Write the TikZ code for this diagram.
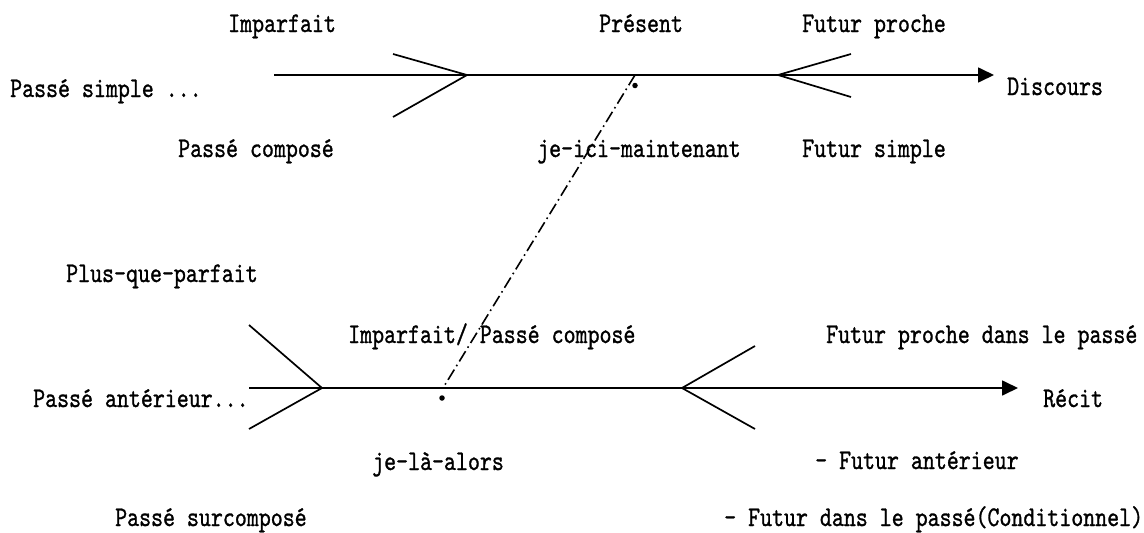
\documentclass[tikz,border=0pt]{standalone}
\usepackage{fontspec}
\newfontfamily\reffont{lmmono10-regular.otf}[FakeStretch=0.8,FakeBold=1]
\usetikzlibrary{arrows.meta}
\begin{document}
\begin{tikzpicture}[x=1pt,y=-1pt,
  lbl/.style={anchor=base west,inner sep=0pt,font=\reffont\fontsize{28.5}{32}\selectfont},
  axis/.style={line width=1.7pt},
  fork/.style={line width=1.7pt},
  tieline/.style={line width=1.6pt,dash pattern=on 12pt off 4pt on 1.6pt off 4pt},
  spot/.style={circle,fill=black,inner sep=0pt,minimum size=5.5pt}]
\useasboundingbox (0,0) rectangle (1144,533);
% --- Discours axis ---
\coordinate (dS) at (274,75);
\coordinate (dE) at (994,75);
\coordinate (dLa) at (467,75);
\coordinate (dLu) at (393,54);
\coordinate (dLd) at (393,117);
\coordinate (dRa) at (778,75);
\coordinate (dRu) at (851,54);
\coordinate (dRd) at (851,97);
\coordinate (dT) at (635,75);
\draw[axis,-{Triangle[length=16pt,width=15pt]}] (dS) -- (dE);
\draw[fork] (dLu) -- (dLa) -- (dLd);
\draw[fork] (dRu) -- (dRa) -- (dRd);
\node[spot] (dDot) at (635,85.5) {};
% --- Recit axis ---
\coordinate (rS) at (249,388);
\coordinate (rE) at (1018,388);
\coordinate (rLa) at (322,388);
\coordinate (rLu) at (249,325);
\coordinate (rLd) at (249,429);
\coordinate (rRa) at (682,388);
\coordinate (rRu) at (755,346);
\coordinate (rRd) at (755,429);
\coordinate (rT) at (443,388);
\draw[axis,-{Triangle[length=16pt,width=15pt]}] (rS) -- (rE);
\draw[fork] (rLu) -- (rLa) -- (rLd);
\draw[fork] (rRu) -- (rRa) -- (rRd);
\node[spot] (rDot) at (442,398) {};
% --- link ---
\draw[tieline] (dT) -- (rT);
% --- labels top ---
\node[lbl] (t1) at (228,32) {Imparfait};
\node[lbl] (t2) at (599,32) {Présent};
\node[lbl] (t3) at (802,32) {Futur proche};
\node[lbl] (t4) at (10,97) {Passé simple ...};
\node[lbl] (t5) at (1007,95) {Discours};
\node[lbl] (t6) at (178,157) {Passé composé};
\node[lbl] (t7) at (537,157) {je-ici-maintenant};
\node[lbl] (t8) at (802,157) {Futur simple};
% --- labels bottom ---
\node[lbl] (b1) at (66,282) {Plus-que-parfait};
\node[lbl] (b2) at (348,343) {Imparfait/ Passé composé};
\node[lbl] (b3) at (826,343) {Futur proche dans le passé};
\node[lbl] (b4) at (33,407) {Passé antérieur...};
\node[lbl] (b5) at (1043,407) {Récit};
\node[lbl] (b6) at (372,470) {je-là-alors};
\node[lbl] (b7) at (815,469) {- Futur antérieur};
\node[lbl] (b8) at (115,526) {Passé surcomposé};
\node[lbl] (b9) at (724,526) {- Futur dans le passé(Conditionnel)};
\end{tikzpicture}
\end{document}
